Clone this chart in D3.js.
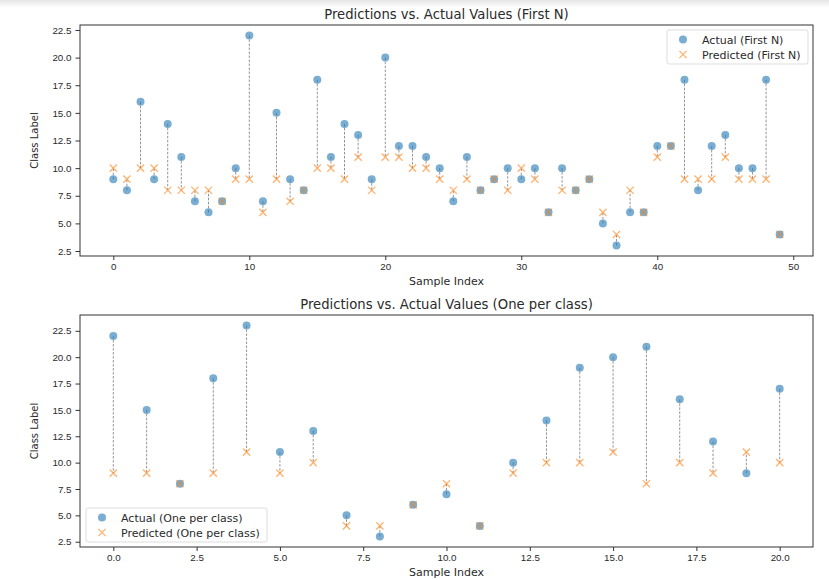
<!DOCTYPE html>
<html>
<head>
<meta charset="utf-8">
<script src="https://cdn.jsdelivr.net/npm/d3@7"></script>
<style>
  body { margin: 0; background: #fff; }
  svg { font-family: "DejaVu Sans", sans-serif; }
</style>
</head>
<body>
<svg id="chart" width="829" height="580"></svg>
<script>
// top panel: first 50 samples
const firstIdx = d3.range(50)
const firstActual = [9,8,16,9,14,11,7,6,7,10,22,7,15,9,8,18,11,14,13,9,20,12,12,11,10,7,11,8,9,10,9,10,6,10,8,9,5,3,6,6,12,12,18,8,12,13,10,10,18,4]
const firstPred   = [10,9,10,10,8,8,8,8,7,9,9,6,9,7,8,10,10,9,11,8,11,11,10,10,9,8,9,8,9,8,10,9,6,8,8,9,6,4,8,6,11,12,9,9,9,11,9,9,9,4]
const firstXTicks = [0,10,20,30,40,50]

// bottom panel: one per class
const classIdx = d3.range(21)
const classActual = [22,15,8,18,23,11,13,5,3,6,7,4,10,14,19,20,21,16,12,9,17]
const classPred   = [9,9,8,9,11,9,10,4,4,6,8,4,9,10,10,11,8,10,9,11,10]
const classXTicks = [0,2.5,5,7.5,10,12.5,15,17.5,20]

const yTicks = [2.5,5,7.5,10,12.5,15,17.5,20,22.5]

const svg = d3.select('#chart')

// faint screenshot shade at the top edge
const grad = svg.append('defs').append('linearGradient')
  .attr('id','shade').attr('x1',0).attr('x2',0).attr('y1',0).attr('y2',1)
grad.append('stop').attr('offset','0%').attr('stop-color','#e6e6e6')
grad.append('stop').attr('offset','100%').attr('stop-color','#ffffff')
svg.append('rect').attr('x',0).attr('y',0).attr('width',829).attr('height',8).attr('fill','url(#shade)')

const blue = 'rgba(31,119,180,0.6)'
const orange = 'rgba(255,127,14,0.6)'
const ink = '#2a2a2a'

function panel(opt){
  const x = d3.scaleLinear().domain(opt.xDomain).range([opt.left, opt.right])
  const y = d3.scaleLinear().domain(opt.yDomain).range([opt.bottom, opt.top])
  const g = svg.append('g')

  // dashed connectors
  g.selectAll('line.conn')
    .data(opt.idx)
    .join('line')
      .attr('class','conn')
      .attr('x1', i => x(i)).attr('x2', i => x(i))
      .attr('y1', i => y(opt.actual[i])).attr('y2', i => y(opt.pred[i]))
      .attr('stroke','rgba(0,0,0,0.42)')
      .attr('stroke-width',1)
      .attr('stroke-dasharray','2.5,1.5')

  // actual points
  g.selectAll('circle.act')
    .data(opt.idx)
    .join('circle')
      .attr('class','act')
      .attr('cx', i => x(i)).attr('cy', i => y(opt.actual[i]))
      .attr('r', 4)
      .attr('fill', blue)

  // predicted x markers
  const s = 3.6
  g.selectAll('path.pred')
    .data(opt.idx)
    .join('path')
      .attr('class','pred')
      .attr('d', i => {
        const cx = x(i), cy = y(opt.pred[i])
        return `M${cx-s},${cy-s}L${cx+s},${cy+s}M${cx-s},${cy+s}L${cx+s},${cy-s}`
      })
      .attr('stroke', orange)
      .attr('stroke-width',1.3)
      .attr('fill','none')

  // axes
  const xAxis = g.append('g')
    .attr('transform', `translate(0,${opt.bottom})`)
    .call(d3.axisBottom(x).tickValues(opt.xTicks).tickFormat(opt.xFmt).tickSize(4).tickPadding(3))
  const yAxis = g.append('g')
    .attr('transform', `translate(${opt.left},0)`)
    .call(d3.axisLeft(y).tickValues(yTicks).tickFormat(d3.format('.1f')).tickSize(4.5).tickPadding(4))
  ;[xAxis, yAxis].forEach(a => {
    a.select('.domain').remove()
    a.selectAll('text').attr('fill',ink).style('font-size','9.8px')
    a.selectAll('line').attr('stroke','#333')
  })

  // frame
  g.append('rect')
    .attr('x', opt.left).attr('y', opt.top)
    .attr('width', opt.right - opt.left).attr('height', opt.bottom - opt.top)
    .attr('fill','none').attr('stroke','#333').attr('stroke-width',1)

  // labels
  g.append('text')
    .attr('x', (opt.left + opt.right) / 2).attr('y', opt.top - 6.5)
    .attr('text-anchor','middle').style('font-size','13.2px').attr('fill',ink)
    .text(opt.title)
  g.append('text')
    .attr('x', (opt.left + opt.right) / 2).attr('y', opt.bottom + 29)
    .attr('text-anchor','middle').style('font-size','11px').attr('fill',ink)
    .text('Sample Index')
  g.append('text')
    .attr('transform', `translate(38,${(opt.top + opt.bottom) / 2}) rotate(-90)`)
    .attr('text-anchor','middle').style('font-size','10px').attr('fill',ink)
    .text('Class Label')

  // legend
  const lg = g.append('g').attr('transform', `translate(${opt.legX},${opt.legY})`)
  lg.append('rect')
    .attr('width', opt.legW).attr('height', 34).attr('rx', 2)
    .attr('fill','rgba(255,255,255,0.8)').attr('stroke','#ddd')
  lg.append('circle').attr('cx',16).attr('cy',9.5).attr('r',4).attr('fill',blue)
  lg.append('path')
    .attr('d', `M${16-s},${24.5-s}L${16+s},${24.5+s}M${16-s},${24.5+s}L${16+s},${24.5-s}`)
    .attr('stroke', orange).attr('stroke-width',1.3)
  lg.append('text').attr('x',35).attr('y',13.5).style('font-size','11px').attr('fill',ink).text(opt.legA)
  lg.append('text').attr('x',35).attr('y',28.5).style('font-size','11px').attr('fill',ink).text(opt.legP)
}

panel({
  idx: firstIdx, actual: firstActual, pred: firstPred,
  xDomain: [-2.45, 51.45], yDomain: [2.05, 22.95], xTicks: firstXTicks, xFmt: d3.format('d'),
  left: 80, right: 813, top: 25, bottom: 256,
  title: 'Predictions vs. Actual Values (First N)',
  legX: 667, legY: 30, legW: 141, legA: 'Actual (First N)', legP: 'Predicted (First N)'
})

panel({
  idx: classIdx, actual: classActual, pred: classPred,
  xDomain: [-1, 21], yDomain: [2, 24], xTicks: classXTicks, xFmt: d3.format('.1f'),
  left: 80, right: 813, top: 315, bottom: 547,
  title: 'Predictions vs. Actual Values (One per class)',
  legX: 86, legY: 508, legW: 181, legA: 'Actual (One per class)', legP: 'Predicted (One per class)'
})
</script>
</body>
</html>
